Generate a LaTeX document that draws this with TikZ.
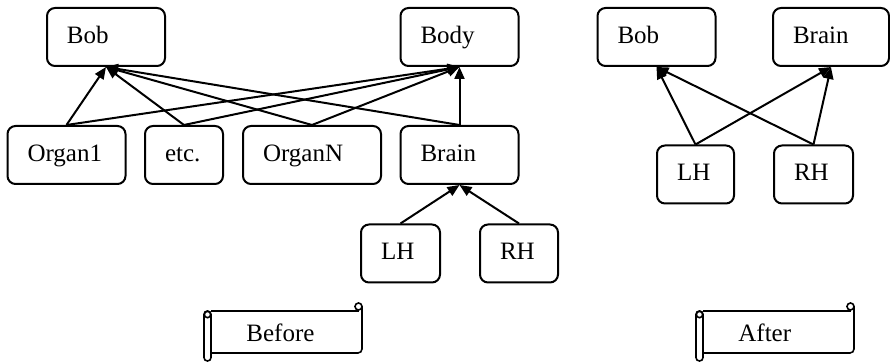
\documentclass[tikz,border=0pt]{standalone}
\usepackage{fontspec}
\setmainfont{Liberation Serif}
\usetikzlibrary{arrows.meta, positioning, calc}

\tikzset{
  box/.style={draw, rounded corners=4pt, line width=1pt, minimum height=29pt,
    inner xsep=10pt, inner ysep=0pt, align=left, text width=#1,
    text height=9pt, text depth=2.5pt},
  box/.default=39pt,
  link/.style={->, line width=1pt},
  scrollline/.style={line width=0.8pt},
}

\begin{document}
\begin{tikzpicture}[x=0.5pt, y=-0.5pt, >={Triangle[length=6pt,width=5pt]},
    font=\fontsize{12.5}{15}\selectfont]
        \useasboundingbox (0,0) rectangle (890,362);

        % before
        \node[box] (bob) at (106,37) {Bob};
        \node[box] (body) at (459.5,37) {Body};
        \node[box] (organ1) at (66.5,155) {Organ1};
        \node[box=19pt] (etc) at (184,155) {etc.};
        \node[box=49pt] (organN) at (312,155) {OrganN};
        \node[box] (brain) at (459.5,155) {Brain};
        \node[box=19.5pt] (lh) at (400.5,253.5) {LH};
        \node[box=19pt] (rh) at (519,253.5) {RH};

        \foreach \src in {organ1, etc, organN, brain} {
            \draw[link] (\src.north) -- (bob.south);
            \draw[link] (\src.north) -- (body.south);
        }
        \draw[link] (lh.north) -- (brain.south);
        \draw[link] (rh.north) -- (brain.south);

        % after
        \node[box] (bob2) at (656.5,37) {Bob};
        \node[box=38pt] (brain2) at (831,37) {Brain};
        \node[box=18.5pt] (lh2) at (695.5,174.5) {LH};
        \node[box=19.5pt] (rh2) at (813.5,174.5) {RH};

        \foreach \src in {lh2, rh2} {
            \draw[link] (\src.north) -- (bob2.south);
            \draw[link] (\src.north) -- (brain2.south);
        }

        % scroll labels
        \foreach \sx/\lbl/\nm in {204/Before/before, 696/After/after} {
            \draw[scrollline] (\sx+7,311) -- (\sx+155,311);
            \draw[scrollline, rounded corners=2pt] (\sx+158,306) -- (\sx+158,353) -- (\sx+7,353);
            \draw[scrollline] (\sx+154.5,306.5) circle (1.75pt);
            \draw[scrollline, rounded corners=1.7pt] (\sx,311) rectangle (\sx+7,361);
            \draw[scrollline] (\sx+3.5,314.5) circle (1.6pt);
            \node[anchor=west, inner sep=0pt] (\nm) at (\sx+42,333) {\lbl};
        }
    \end{tikzpicture}
\end{document}
